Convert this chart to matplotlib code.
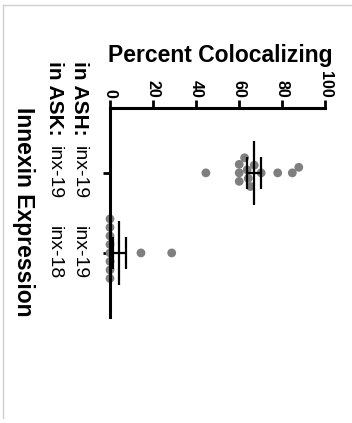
import numpy as np
import matplotlib.pyplot as plt
from matplotlib.lines import Line2D
from matplotlib import transforms

plt.rcParams['font.family'] = ['Liberation Sans', 'DejaVu Sans']

# dados (percentual de colocalizacao)
rotulos_ash = ['inx-19', 'inx-19']
rotulos_ask = ['inx-19', 'inx-18']
grupo_19_19 = [44.6, 60.1, 60.1, 60.1, 62.6, 63.8, 64.3, 65.3, 67.1, 70.3, 78.0, 84.8, 87.8]
grupo_19_18 = [0, 0, 0, 0, 0, 0, 0, 0, 14.4, 28.7]
ticks_valor = [0, 20, 40, 60, 80, 100]
posicoes = [1, 2]

W, H = 352, 423
fig = plt.figure(figsize=(W / 100, H / 100), dpi=100)
ax = fig.add_axes([110 / W, 1 - 317 / H, 215 / W, 209 / H])
ax.set_xlim(0, 100)
ax.set_ylim(2.8, 0.19)

for lado in ['right', 'bottom']:
    ax.spines[lado].set_visible(False)
for lado in ['left', 'top']:
    ax.spines[lado].set_linewidth(2.2)

ax.xaxis.tick_top()
ax.set_xticks(ticks_valor)
ax.set_xticklabels([str(t) for t in ticks_valor], rotation=-90, fontsize=11.5, fontweight='bold')
ax.tick_params(axis='x', length=5.5, width=2, pad=2)
ax.set_yticks(posicoes)
ax.set_yticklabels([])
ax.tick_params(axis='y', length=5, width=2)


def enxame(valores, pos, diam):
    pts = ax.transData.transform([(v, pos) for v in valores])
    xs = pts[:, 0]
    y0 = pts[0, 1]
    ordem = np.argsort(xs, kind='stable')
    colocados = []
    offs = np.zeros(len(xs))
    for i in ordem:
        cands = [0.0]
        for xj, oj in colocados:
            dx = xs[i] - xj
            if abs(dx) < diam:
                h = np.sqrt(diam ** 2 - dx ** 2)
                cands += [oj + h, oj - h]
        cands.sort(key=abs)
        for c in cands:
            if all((xs[i] - xj) ** 2 + (c - oj) ** 2 >= diam ** 2 - 1e-6 for xj, oj in colocados):
                break
        offs[i] = c
        colocados.append((xs[i], c))
    volta = ax.transData.inverted().transform(np.column_stack([xs, y0 + offs]))
    return volta[:, 0], volta[:, 1]


for valores, pos in zip([grupo_19_19, grupo_19_18], posicoes):
    vx, vy = enxame(valores, pos, 8.5)
    ax.scatter(vx, vy, s=40, color='#7f7f7f', edgecolors='none', zorder=2, clip_on=False)
    media = np.mean(valores)
    epm = np.std(valores, ddof=1) / np.sqrt(len(valores))
    ax.vlines(media, pos - 0.4, pos + 0.4, color='black', lw=1.6, zorder=3)
    ax.errorbar(media, pos, xerr=epm, fmt='none', ecolor='black', elinewidth=1.6,
                capsize=11.5, capthick=1.6, zorder=3)

# textos
fig.text(220 / W, 1 - 62 / H, 'Percent Colocalizing', fontsize=16.5, fontweight='bold',
         ha='center', va='baseline')
trans = transforms.blended_transform_factory(fig.transFigure, ax.transData)
fig.text(79 / W, 1 - 61 / H, 'in ASH:', fontsize=15, fontweight='bold', rotation=-90,
         ha='center', va='top')
fig.text(54 / W, 1 - 61 / H, 'in ASK:', fontsize=15, fontweight='bold', rotation=-90,
         ha='center', va='top')
for pos, r_ash, r_ask in zip(posicoes, rotulos_ash, rotulos_ask):
    ax.text(79 / W, pos, r_ash, transform=trans, fontsize=14, rotation=-90,
            ha='center', va='center')
    ax.text(54 / W, pos, r_ask, transform=trans, fontsize=14, rotation=-90,
            ha='center', va='center')
fig.text(23 / W, 1 - 212 / H, 'Innexin Expression', fontsize=16.5, fontweight='bold',
         rotation=-90, ha='center', va='center')

# moldura cinza clara
fig.add_artist(Line2D([3 / W, 1], [1 - 5 / H, 1 - 5 / H], color='#d0d0d0', lw=1,
                      transform=fig.transFigure))
fig.add_artist(Line2D([3 / W, 3 / W], [1 - 5 / H, 1 - 418 / H], color='#d0d0d0', lw=1,
                      transform=fig.transFigure))

fig.savefig('out.png', dpi=100)
